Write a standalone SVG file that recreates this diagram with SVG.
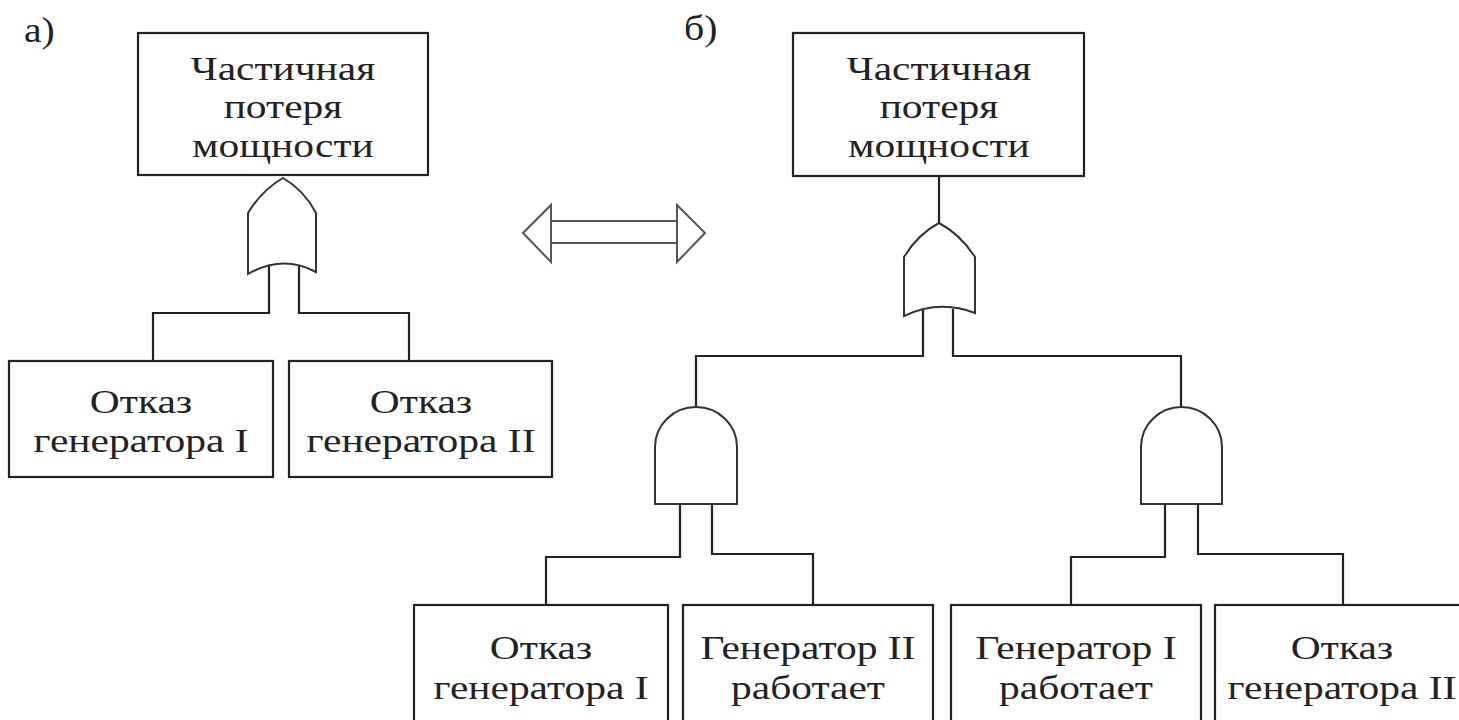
<svg xmlns="http://www.w3.org/2000/svg" width="1459" height="720" viewBox="0 0 1459 720">
<style>
.box{fill:#fff;stroke:#222;stroke-width:2.2}
.gate{fill:#fff;stroke:#333;stroke-width:2}
.ln{fill:none;stroke:#222;stroke-width:2.2}
.arr{fill:none;stroke:#555;stroke-width:2}
text{font-family:"Liberation Serif","Times New Roman",serif;font-size:34px;fill:#222;text-anchor:middle}
.lbl{text-anchor:start;font-size:36px}
</style>
<rect width="1459" height="720" fill="#fff"/>
<text class="lbl" transform="translate(24,42) scale(1.1,1)">а)</text>
<text class="lbl" transform="translate(684,40) scale(1.1,1)">б)</text>
<g id="connectors">
<path class="ln" d="M269,265 V313 H153 V361"/>
<path class="ln" d="M299,265 V313 H409 V361"/>
<path class="ln" d="M939,176 V223"/>
<path class="ln" d="M923,309 V356 H696 V407"/>
<path class="ln" d="M953,309 V356 H1181 V407"/>
<path class="ln" d="M680,504 V557 H546 V605"/>
<path class="ln" d="M712,504 V554 H813 V605"/>
<path class="ln" d="M1165,504 V557 H1071 V605"/>
<path class="ln" d="M1198,504 V554 H1343 V605"/>
</g>
<g id="equiv-arrow">
<path class="arr" d="M551,205 L523,233 L551,262 Z"/>
<path class="arr" d="M677,205 L705,233 L677,262 Z"/>
<path class="arr" d="M551,221 H677 M551,243 H677" stroke="#333"/>
</g>
<g id="a-top">
<rect class="box" x="138" y="33" width="290" height="142"/>
<text transform="translate(283,80) scale(1.22,1)">Частичная</text>
<text transform="translate(283,118) scale(1.22,1)">потеря</text>
<text transform="translate(283,157) scale(1.22,1)">мощности</text>
</g>
<g id="a-or">
<path class="gate" d="M248,274 V213 Q262,190 283,178 Q304,190 316,213 V272 Q283,254 248,274 Z"/>
</g>
<g id="a-gen1">
<rect class="box" x="9" y="361" width="264" height="116"/>
<text transform="translate(141,413) scale(1.22,1)">Отказ</text>
<text transform="translate(141,452) scale(1.22,1)">генератора I</text>
</g>
<g id="a-gen2">
<rect class="box" x="289" y="361" width="263" height="116"/>
<text transform="translate(421,413) scale(1.22,1)">Отказ</text>
<text transform="translate(421,452) scale(1.22,1)">генератора II</text>
</g>
<g id="b-top">
<rect class="box" x="793" y="33" width="291" height="143"/>
<text transform="translate(939,80) scale(1.22,1)">Частичная</text>
<text transform="translate(939,118) scale(1.22,1)">потеря</text>
<text transform="translate(939,157) scale(1.22,1)">мощности</text>
</g>
<g id="b-or">
<path class="gate" d="M904,316 V257 Q918,234 939,223 Q960,234 975,257 V313 Q939,299 904,316 Z"/>
</g>
<g id="b-and1">
<path class="gate" d="M655,504 V447 A41,40 0 0 1 737,447 V504 Z"/>
</g>
<g id="b-and2">
<path class="gate" d="M1141,504 V447 A40.5,40 0 0 1 1222,447 V504 Z"/>
</g>
<g id="b-gen1-fail">
<rect class="box" x="414" y="605" width="254" height="130"/>
<text transform="translate(541,659) scale(1.22,1)">Отказ</text>
<text transform="translate(541,699) scale(1.22,1)">генератора I</text>
</g>
<g id="b-gen2-ok">
<rect class="box" x="683" y="605" width="250" height="130"/>
<text transform="translate(808,659) scale(1.22,1)">Генератор II</text>
<text transform="translate(808,699) scale(1.22,1)">работает</text>
</g>
<g id="b-gen1-ok">
<rect class="box" x="951" y="605" width="250" height="130"/>
<text transform="translate(1076,659) scale(1.22,1)">Генератор I</text>
<text transform="translate(1076,699) scale(1.22,1)">работает</text>
</g>
<g id="b-gen2-fail">
<rect class="box" x="1215" y="605" width="260" height="130"/>
<text transform="translate(1342,659) scale(1.22,1)">Отказ</text>
<text transform="translate(1342,699) scale(1.22,1)">генератора II</text>
</g>
</svg>
